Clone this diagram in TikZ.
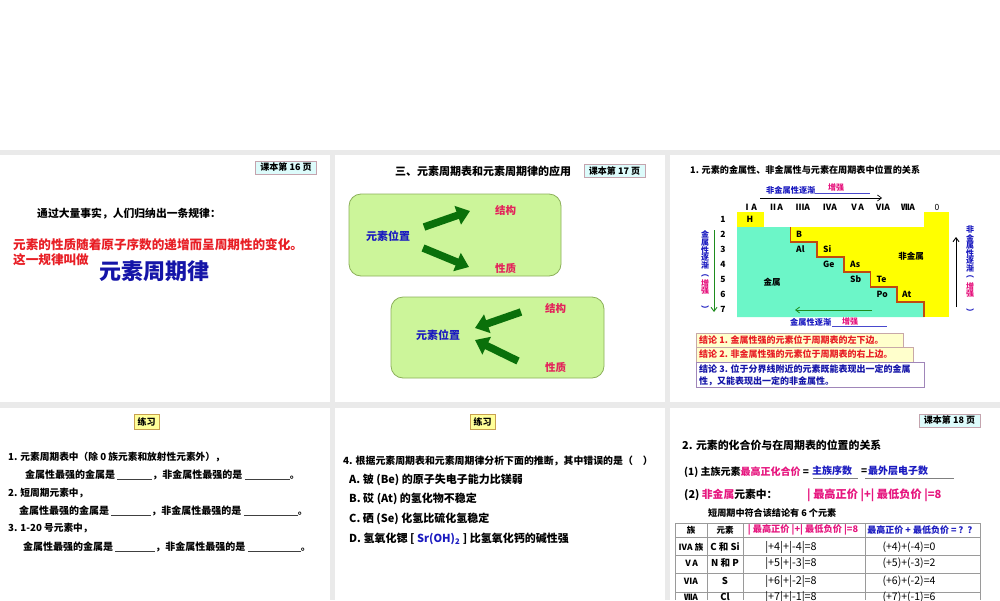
\documentclass[tikz,border=0pt]{standalone}
\usepackage{fontspec}
\setmainfont{Noto Sans CJK SC}
\usetikzlibrary{arrows.meta}
\definecolor{band}{HTML}{EAEAEA}
\definecolor{pgfill}{HTML}{DDFBFB}
\definecolor{pgdraw}{HTML}{C4A4AE}
\definecolor{rd}{HTML}{E81E25}
\definecolor{nv}{HTML}{1515A8}
\definecolor{bl}{HTML}{1A1AC0}
\definecolor{cr}{HTML}{E3245B}
\definecolor{gfill}{HTML}{CCF59A}
\definecolor{gdraw}{HTML}{8CB05A}
\definecolor{dg}{HTML}{0A700A}
\definecolor{pk}{HTML}{E6157E}
\definecolor{aq}{HTML}{6CF6C8}
\definecolor{yl}{HTML}{FFFF00}
\definecolor{st}{HTML}{C04A10}
\definecolor{cf}{HTML}{FFFFCC}
\definecolor{cb}{HTML}{C8A8A8}
\definecolor{lx}{HTML}{FFFF99}
\definecolor{lxb}{HTML}{C8A050}
\definecolor{tbl}{HTML}{9A9A9A}
\definecolor{gl}{HTML}{1E8C1E}
\newcommand{\myfs}[1]{\fontsize{#1}{#1}\selectfont}
\newcommand{\blank}[1]{\textcolor{black!75}{\rule[-1.5pt]{#1pt}{0.6pt}}}
\begin{document}
\begin{tikzpicture}[x=1pt,y=-1pt,
  t/.style={inner sep=0pt, anchor=west},
  fz/.style={font=\bfseries\myfs{#1}},
  pagebox/.style={draw=pgdraw, fill=pgfill, line width=0.8pt, minimum width=61pt, minimum height=13pt, inner sep=0pt, font=\bfseries\myfs{9}},
  lxbox/.style={draw=lxb, fill=lx, line width=0.8pt, minimum width=25pt, minimum height=15pt, inner sep=0pt, font=\bfseries\myfs{9}},
  grect/.style={draw=gdraw, fill=gfill, line width=0.8pt, rounded corners=12pt},
  garrow/.style={draw=dg, line width=7.5pt, -{Triangle[length=13pt,width=19pt]}},
  conc/.style={draw=cb, fill=cf, line width=0.6pt},
  vtxt/.style={inner sep=0pt, align=center, font=\bfseries\fontsize{8}{7.6}\selectfont},
  tline/.style={draw=tbl, line width=0.6pt}]
\useasboundingbox (0,0) rectangle (1000,600);
\clip (0,0) rectangle (1000,600);
% background and slide panels
\fill[band] (0,150) rectangle (1000,600);
\foreach \a/\b/\c/\d in {0/155/330/402, 335/155/665/402, 670/155/1000/402, 0/408/330/600, 335/408/665/600, 670/408/1000/600}
  \fill[white] (\a,\b) rectangle (\c,\d);

% ---------------- slide 1
\node[pagebox] (pg16) at (286,167.5) {课本第 16 页};
\node[t, fz=10.8] (s1a) at (37,214) {通过大量事实，人们归纳出一条规律：};
\node[t, fz=12.6, text=rd] (s1b) at (13,245) {元素的性质随着原子序数的递增而呈周期性的变化。};
\node[t, fz=12.6, text=rd] (s1c) at (13,260) {这一规律叫做};
\node[t, fz=22, text=nv] (s1d) at (99,271) {元素周期律};

% ---------------- slide 2
\node[t, fz=11] (s2t) at (395,171) {三、元素周期表和元素周期律的应用};
\node[pagebox] (pg17) at (614.5,171) {课本第 17 页};
\draw[grect] (349,194) rectangle (561,276);
\draw[grect] (391,297) rectangle (604,378);
\node[t, fz=11, text=bl] (pos1) at (366,236) {元素位置};
\node[t, fz=10.5, text=cr] (jg1) at (495,210) {结构};
\node[t, fz=10.5, text=cr] (xz1) at (495,268) {性质};
\node[t, fz=11, text=bl] (pos2) at (416,335) {元素位置};
\node[t, fz=10.5, text=cr] (jg2) at (545,308) {结构};
\node[t, fz=10.5, text=cr] (xz2) at (545,367) {性质};
\coordinate (a1s) at (424,227); \coordinate (a1e) at (470,211);
\coordinate (a2s) at (423,248); \coordinate (a2e) at (469,267);
\coordinate (a3s) at (521,312); \coordinate (a3e) at (475,328);
\coordinate (a4s) at (518,361); \coordinate (a4e) at (475,340);
\draw[garrow] (a1s) -- (a1e);
\draw[garrow] (a2s) -- (a2e);
\draw[garrow] (a3s) -- (a3e);
\draw[garrow] (a4s) -- (a4e);

% ---------------- slide 3
\node[t, fz=9.1] (s3t) at (690,170) {1. 元素的金属性、非金属性与元素在周期表中位置的关系};
% table fills
\fill[yl] (737,212) rectangle (763.5,227);
\fill[yl] (924,212) rectangle (949,227);
\fill[yl] (790.5,227) rectangle (949,317);
\fill[aq] (737,227) -- (790.5,227) -- (790.5,242) -- (817,242) -- (817,257) -- (844,257) -- (844,272) -- (870.5,272) -- (870.5,287) -- (897,287) -- (897,302) -- (924,302) -- (924,317) -- (737,317) -- cycle;
\draw[st, line width=1.2pt] (790.5,227) -- (790.5,242) -- (817,242) -- (817,257) -- (844,257) -- (844,272) -- (870.5,272) -- (870.5,287) -- (897,287) -- (897,302) -- (924,302) -- (924,317);
% headers
\foreach \x/\g [count=\i] in {750/ⅠA, 776/ⅡA, 803/ⅢA, 830/ⅣA, 857/ⅤA, 883/ⅥA, 908/ⅦA}
  \node[fz=8.5, inner sep=0pt] (g\i) at (\x,207) {\g};
\node[font=\myfs{8.5}, inner sep=0pt] (g8) at (937,207) {0};
\foreach \p in {1,...,7}
  \node[fz=8.5, inner sep=0pt] (per\p) at (723,{219.5+15*(\p-1)}) {\p};
\node[font=\bfseries\myfs{8.5}, inner sep=0pt] (eH) at (750,219.5) {H};
\foreach \n/\x/\y in {B/796/234.5, Al/796/249.5, Si/823/249.5, Ge/823/264.5, As/850/264.5, Sb/850/279.5, Te/876.5/279.5, Po/876.5/294.5, At/902/294.5}
  \node[t, fz=8.5] (e\n) at (\x,\y) {\n};
\node[fz=8.5, inner sep=0pt] (nm) at (911,256) {非金属};
\node[fz=8.5, inner sep=0pt] (mt) at (772,282) {金属};
% top arrow and label
\node[t, fz=8.2, text=bl] (topl) at (766,190) {非金属性逐渐};
\node[t, fz=8, text=pk] (topz) at (828,187) {增强};
\draw[bl!80, line width=0.5pt] (815,193) -- (870,193);
\coordinate (ta1) at (760,198); \coordinate (ta2) at (882,198);
\draw[line width=0.7pt, -{Straight Barb[length=4pt,width=6pt]}] (ta1) -- (ta2);
% bottom arrow and label
\coordinate (ba1) at (872,310); \coordinate (ba2) at (795,310);
\draw[gl, line width=0.8pt, -{Straight Barb[length=4pt,width=6pt]}] (ba1) -- (ba2);
\node[t, fz=8.2, text=bl] (botl) at (790,322) {金属性逐渐};
\node[t, fz=8, text=pk] (botz) at (842,321) {增强};
\draw[bl!80, line width=0.5pt] (832,326) -- (887,326);
% left vertical
\node[vtxt, text=bl] (lv1) at (705,250) {金\\属\\性\\逐\\渐};
\node[vtxt, text=bl] (lv2) at (705,276) {︵};
\node[vtxt, text=pk] (lv3) at (705,287) {增\\强};
\node[vtxt, text=bl] (lv4) at (705,309) {︶};
\coordinate (lva) at (714,230); \coordinate (lvb) at (714,312);
\draw[gl, line width=0.9pt, -{Straight Barb[length=4pt,width=6pt]}] (lva) -- (lvb);
% right vertical
\node[vtxt, text=bl] (rv1) at (970,249) {非\\金\\属\\性\\逐\\渐};
\node[vtxt, text=bl] (rv2) at (970,277) {︵};
\node[vtxt, text=pk] (rv3) at (970,290) {增\\强};
\node[vtxt, text=bl] (rv4) at (970,312) {︶};
\coordinate (rva) at (956,307); \coordinate (rvb) at (956,237);
\draw[black, line width=0.9pt, -{Straight Barb[length=4pt,width=6pt]}] (rva) -- (rvb);
% conclusions
\draw[conc] (696,333) rectangle (903,347);
\draw[conc] (696,347) rectangle (913,362);
\draw[conc, fill=white, draw=cb!80!blue] (696,362) rectangle (924,387);
\node[t, fz=9, text=rd] (c1) at (699,340) {结论 1. 金属性强的元素位于周期表的左下边。};
\node[t, fz=9, text=rd] (c2) at (699,354.5) {结论 2. 非金属性强的元素位于周期表的右上边。};
\node[t, fz=9, text=nv] (c3a) at (699,369) {结论 3. 位于分界线附近的元素既能表现出一定的金属};
\node[t, fz=9, text=nv] (c3b) at (699,381) {性，又能表现出一定的非金属性。};

% ---------------- slide 4
\node[lxbox] (lx1) at (146.5,421.5) {练习};
\node[t, fz=9.7] (q1a) at (8,457) {1. 元素周期表中（除 0 族元素和放射性元素外），};
\node[t, fz=10] (q1b) at (25,475) {金属性最强的金属是 \blank{35}，非金属性最强的是 \blank{45}。};
\node[t, fz=9.7] (q2a) at (8,493) {2. 短周期元素中，};
\node[t, fz=10] (q2b) at (19,511) {金属性最强的金属是 \blank{40}，非金属性最强的是 \blank{54}。};
\node[t, fz=9.7] (q3a) at (8,528) {3. 1-20 号元素中，};
\node[t, fz=10] (q3b) at (23,547) {金属性最强的金属是 \blank{40}，非金属性最强的是 \blank{53}。};

% ---------------- slide 5
\node[lxbox] (lx2) at (482.5,421.5) {练习};
\node[t, fz=9.9] (q4) at (343,461) {4. 根据元素周期表和元素周期律分析下面的推断，其中错误的是（\quad ）};
\node[t, fz=11] (qa) at (349,480) {A. 铍 (Be) 的原子失电子能力比镁弱};
\node[t, fz=11] (qb) at (349,499) {B. 砹 (At) 的氢化物不稳定};
\node[t, fz=11] (qc) at (349,519) {C. 硒 (Se) 化氢比硫化氢稳定};
\node[t, fz=11] (qd) at (349,539) {D. 氢氧化锶 [ \textcolor{bl}{Sr(OH)\textsubscript{2}} ] 比氢氧化钙的碱性强};

% ---------------- slide 6
\node[pagebox] (pg18) at (949.5,420.5) {课本第 18 页};
\node[t, fz=10.9] (s6t) at (682,445) {2. 元素的化合价与在周期表的位置的关系};
\node[t, fz=10] (r1a) at (684,472) {(1) 主族元素\textcolor{pk}{最高正化合价} =};
\node[t, fz=10, text=bl] (r1b) at (812,471) {主族序数};
\draw[gray, line width=0.6pt] (813,478) -- (858,478);
\node[t, fz=10] (r1c) at (861,472) {=};
\node[t, fz=10, text=bl] (r1d) at (868,471) {最外层电子数};
\draw[gray, line width=0.6pt] (865,478) -- (954,478);
\node[t, fz=10.8] (r2a) at (684,495) {(2) \textcolor{pk}{非金属}元素中：};
\node[t, fz=11.2, text=pk] (r2b) at (807,495) {| 最高正价 |+| 最低负价 |=8};
\node[t, fz=9.1] (r3) at (708,513) {短周期中符合该结论有 6 个元素};
% table
\foreach \y in {523,537,555,573,592} \draw[tline] (675,\y) -- (980,\y);
\foreach \x in {675,707,743,865,980} \draw[tline] (\x,523) -- (\x,600);
\node[fz=8.5, inner sep=0pt] (h1) at (691,530) {族};
\node[fz=8.5, inner sep=0pt] (h2) at (725,530) {元素};
\node[fz=9.2, inner sep=0pt, text=pk] (h3) at (803,530) {| 最高正价 |+| 最低负价 |=8};
\node[fz=9, inner sep=0pt, text=bl] (h4) at (922,530) {最高正价 + 最低负价 = ？？};
\foreach \g/\e/\a/\b/\y [count=\i] in {ⅣA 族/C 和 Si/|+4|+|-4|=8/(+4)+(-4)=0/547, ⅤA/N 和 P/|+5|+|-3|=8/(+5)+(-3)=2/563, ⅥA/S/|+6|+|-2|=8/(+6)+(-2)=4/581, ⅦA/Cl/|+7|+|-1|=8/(+7)+(-1)=6/597}{
  \node[fz=8.5, inner sep=0pt] (rg\i) at (691,\y) {\g};
  \node[fz=9.5, inner sep=0pt] (re\i) at (725,\y) {\e};
  \node[font=\myfs{10.8}, inner sep=0pt] (ra\i) at (791,\y) {\a};
  \node[font=\myfs{10.5}, inner sep=0pt] (rb\i) at (909,\y) {\b};
}
\end{tikzpicture}
\end{document}
